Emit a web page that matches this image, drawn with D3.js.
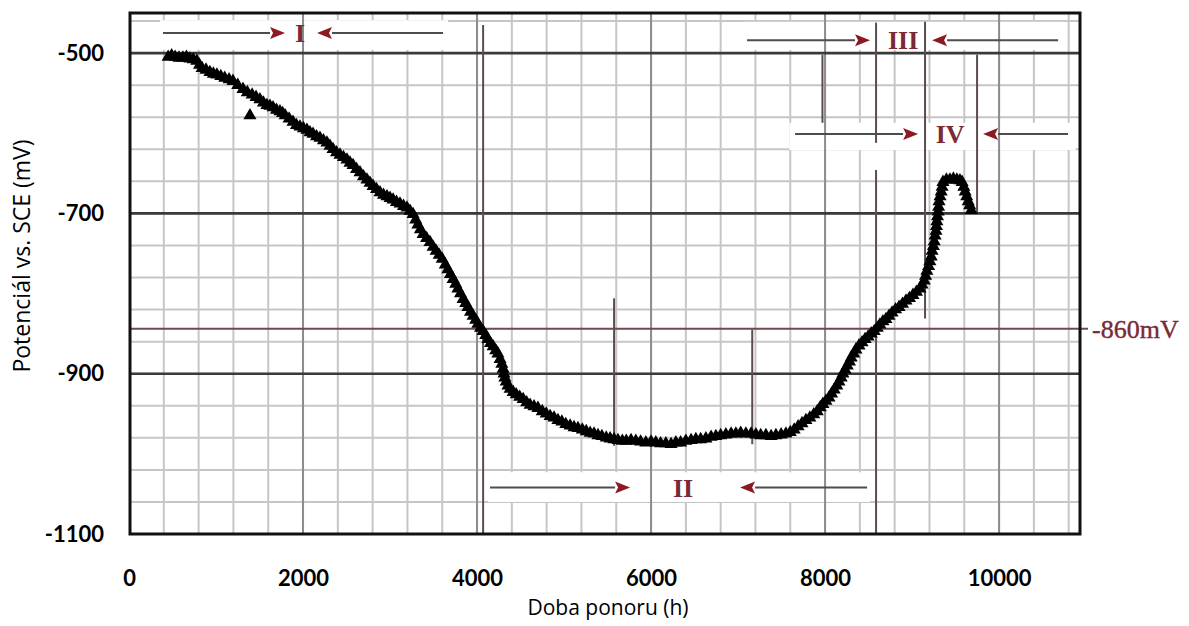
<!DOCTYPE html>
<html>
<head>
<meta charset="utf-8">
<script src="https://cdn.jsdelivr.net/npm/d3@7"></script>
<style>
  html, body { margin: 0; padding: 0; background: #ffffff; }
  svg { display: block; }
</style>
</head>
<body>
<svg id="chart" width="1189" height="626"></svg>
<script>
// ---------------- DATA ----------------
const timeH = [
  450, 490, 530, 575, 620, 660, 700, 740, 780, 810,
  840, 885, 930, 970, 1010, 1055, 1100, 1150, 1195, 1250,
  1310, 1360, 1390, 1415, 1460, 1505, 1545, 1585, 1620, 1655,
  1695, 1735, 1765, 1795, 1840, 1885, 1925, 1965, 2005, 2045,
  2080, 2115, 2155, 2195, 2235, 2275, 2310, 2345, 2385, 2425,
  2465, 2505, 2540, 2575, 2615, 2655, 2695, 2735, 2770, 2805,
  2845, 2885, 2925, 2965, 3000, 3035, 3075, 3115, 3155, 3195,
  3230, 3265, 3295, 3320, 3350, 3380, 3420, 3460, 3495, 3530,
  3565, 3600, 3635, 3665, 3695, 3725, 3755, 3780, 3810, 3840,
  3870, 3895, 3925, 3955, 3985, 4010, 4040, 4070, 4100, 4125,
  4155, 4185, 4215, 4240, 4265, 4285, 4300, 4310, 4320, 4335,
  4355, 4380, 4415, 4450, 4490, 4530, 4570, 4610, 4655, 4700,
  4750, 4795, 4840, 4885, 4930, 4975, 5020, 5070, 5115, 5160,
  5210, 5255, 5300, 5345, 5390, 5435, 5485, 5530, 5575, 5620,
  5670, 5715, 5770, 5825, 5880, 5940, 6000, 6055, 6110, 6170,
  6230, 6285, 6340, 6400, 6460, 6515, 6570, 6630, 6690, 6745,
  6800, 6860, 6920, 6975, 7030, 7090, 7150, 7205, 7260, 7320,
  7380, 7435, 7495, 7550, 7600, 7645, 7690, 7735, 7780, 7825,
  7870, 7910, 7945, 7975, 8010, 8045, 8075, 8105, 8135, 8160,
  8185, 8205, 8230, 8255, 8280, 8300, 8330, 8355, 8390, 8425,
  8460, 8495, 8530, 8565, 8600, 8630, 8665, 8700, 8735, 8770,
  8810, 8850, 8890, 8930, 8970, 9010, 9050, 9090, 9115, 9140,
  9155, 9170, 9190, 9205, 9220, 9230, 9245, 9255, 9265, 9275,
  9280, 9285, 9292, 9300, 9305, 9310, 9322, 9335, 9345, 9355,
  9395, 9435, 9475, 9515, 9550, 9575, 9595, 9610, 9628, 9645,
  9662, 9680];
const potentialMV = [
  -505, -503, -505, -506, -506, -505, -507, -508, -510, -515,
  -519, -521, -524, -526, -527, -529, -531, -533, -535, -540,
  -545, -549, -578, -552, -555, -558, -562, -565, -566, -568,
  -571, -573, -575, -578, -582, -586, -590, -592, -594, -596,
  -599, -601, -604, -606, -609, -612, -616, -620, -624, -627,
  -630, -633, -637, -640, -645, -649, -654, -658, -662, -666,
  -670, -674, -677, -679, -681, -683, -686, -688, -691, -693,
  -697, -701, -708, -714, -720, -726, -731, -736, -742, -747,
  -752, -757, -764, -770, -776, -782, -788, -794, -800, -807,
  -812, -817, -823, -828, -833, -838, -843, -847, -852, -857,
  -862, -866, -871, -875, -882, -888, -894, -900, -905, -910,
  -915, -919, -923, -926, -929, -932, -936, -939, -941, -943,
  -947, -950, -953, -955, -958, -960, -963, -965, -967, -968,
  -970, -972, -974, -975, -977, -978, -980, -981, -982, -983,
  -984, -984, -983, -984, -985, -986, -985, -986, -987, -987,
  -988, -986, -986, -984, -983, -982, -982, -981, -979, -978,
  -977, -976, -975, -975, -974, -975, -975, -976, -977, -977,
  -978, -977, -976, -975, -973, -970, -966, -962, -958, -955,
  -951, -947, -942, -938, -934, -930, -925, -920, -915, -910,
  -905, -900, -895, -890, -885, -880, -875, -870, -865, -861,
  -857, -854, -850, -847, -843, -839, -835, -832, -828, -824,
  -820, -817, -813, -809, -806, -802, -798, -794, -789, -784,
  -778, -772, -766, -760, -754, -747, -741, -735, -728, -722,
  -716, -710, -704, -698, -692, -685, -679, -673, -667, -661,
  -658, -658, -657, -658, -659, -661, -667, -673, -679, -685,
  -690, -696];

const xTicks = [0, 2000, 4000, 6000, 8000, 10000];
const yTicks = [-500, -700, -900, -1100];
const xLabel = "Doba ponoru (h)";
const yLabel = "Potenciál vs. SCE (mV)";

// reference potential line (drawn where the source image places it) and its label
const refLineMV = -844;
const refLabel = "-860mV";

// region boundary lines: [time h, top mV, bottom mV]
const regionLines = [
  [4070, -465, -1100],
  [5575, -806, -990],
  [7163, -845, -988],
  [7970, -502, -587],
  [8586, -462, -612],
  [8586, -646, -1100],
  [9149, -461, -831],
  [9747, -502, -699]
];
// region labels and arrows
const regionNames = ["I", "II", "III", "IV"];
const regionLabelH = [1965, 6368, 8897, 9437];
const regionLabelMV = [-475, -1042, -484, -601];
const arrowLeftFrom = [391, 4149, 7103, 7655];
const arrowLeftTo = [1793, 5759, 8517, 9069];
const arrowRightFrom = [3609, 8483, 10678, 10793];
const arrowRightTo = [2161, 7023, 9230, 9816];
// blank patches of the source figure: [h0, h1, mV top, mV bottom]
const blankPatches = [
  [356, 3667, -459, -496],
  [4126, 8517, -1023, -1060],
  [7060, 10750, -461, -496],
  [7590, 10880, -587, -621]
];

// ---------------- CHART ----------------
const svg = d3.select("#chart");
const x = d3.scaleLinear().domain([0, 10930]).range([129, 1080]);
const y = d3.scaleLinear().domain([-1100, -450]).range([534, 13]);
const X0 = 130, X1 = 1080, Y0 = 13, Y1 = 534;

svg.append("rect").attr("width", 1189).attr("height", 626).attr("fill", "#fff");

const g = svg.append("g");

// minor grid
const minorX = d3.range(400, 10930, 400);
const minorY = d3.range(-1060, -450, 40);
g.selectAll(".mx").data(minorX).join("line")
  .attr("x1", d => x(d)).attr("x2", d => x(d)).attr("y1", Y0).attr("y2", Y1)
  .attr("stroke", "#c6c6c6").attr("stroke-width", 2);
g.selectAll(".my").data(minorY).join("line")
  .attr("x1", X0).attr("x2", X1).attr("y1", d => y(d)).attr("y2", d => y(d))
  .attr("stroke", "#c6c6c6").attr("stroke-width", 2);

// blank patches
g.selectAll(".patch").data(blankPatches).join("rect")
  .attr("x", d => x(d[0])).attr("width", d => x(d[1]) - x(d[0]))
  .attr("y", d => y(d[2])).attr("height", d => y(d[3]) - y(d[2]))
  .attr("fill", "#fff");

// major grid
g.selectAll(".Mx").data(xTicks.filter(d => d > 0)).join("line")
  .attr("x1", d => x(d)).attr("x2", d => x(d)).attr("y1", Y0).attr("y2", Y1)
  .attr("stroke", "#8c8c8c").attr("stroke-width", 2);
g.selectAll(".My").data(yTicks.filter(d => d > -1100)).join("line")
  .attr("x1", X0).attr("x2", X1).attr("y1", d => y(d)).attr("y2", d => y(d))
  .attr("stroke", "#3a3a3a").attr("stroke-width", 2.6);

// region boundary lines
g.selectAll(".rl").data(regionLines).join("line")
  .attr("x1", d => x(d[0])).attr("x2", d => x(d[0]))
  .attr("y1", d => y(d[1])).attr("y2", d => y(d[2]))
  .attr("stroke", "#5a4d4d").attr("stroke-width", 2);

// reference line
g.append("line")
  .attr("x1", X0).attr("x2", 1088).attr("y1", y(refLineMV)).attr("y2", y(refLineMV))
  .attr("stroke", "#6e4a4c").attr("stroke-width", 2);
g.append("text")
  .attr("x", 1092).attr("y", y(refLineMV)).attr("dy", "0.35em")
  .attr("font-family", "'Liberation Serif', 'DejaVu Serif', serif")
  .attr("font-size", 26).attr("fill", "#7a2a34")
  .attr("stroke", "#7a2a34").attr("stroke-width", 0.4)
  .text(refLabel);

// data markers
const tri = d3.symbol().type(d3.symbolTriangle).size(74);
g.selectAll(".pt").data(timeH.map((t, i) => [t, potentialMV[i]])).join("path")
  .attr("d", tri)
  .attr("transform", d => `translate(${x(d[0])},${y(d[1])})`)
  .attr("fill", "#000");

// arrows
function arrow(h0, h1, mv) {
  const xa = x(h0), xb = x(h1), yy = y(mv);
  const dir = xb > xa ? 1 : -1;
  const head = 15;
  g.append("line").attr("x1", xa).attr("x2", xb - dir * head).attr("y1", yy).attr("y2", yy)
    .attr("stroke", "#4d4d4d").attr("stroke-width", 2);
  g.append("path")
    .attr("d", `M${xb},${yy} L${xb - dir * head},${yy - 6} L${xb - dir * (head - 3)},${yy} L${xb - dir * head},${yy + 6} Z`)
    .attr("fill", "#8b1a22");
}
regionNames.forEach((name, i) => {
  arrow(arrowLeftFrom[i], arrowLeftTo[i], regionLabelMV[i]);
  arrow(arrowRightFrom[i], arrowRightTo[i], regionLabelMV[i]);
  g.append("text")
    .attr("x", x(regionLabelH[i])).attr("y", y(regionLabelMV[i])).attr("dy", "0.35em")
    .attr("text-anchor", "middle")
    .attr("font-family", "'Liberation Serif', 'DejaVu Serif', serif")
    .attr("font-weight", "bold").attr("font-size", 26).attr("fill", "#7a2a34")
    .text(name);
});

// frame
g.append("rect").attr("x", X0).attr("y", Y0).attr("width", X1 - X0).attr("height", Y1 - Y0)
  .attr("fill", "none").attr("stroke", "#111").attr("stroke-width", 3);

// axes
const xAxis = svg.append("g").attr("transform", `translate(0,${Y1})`)
  .call(d3.axisBottom(x).tickValues(xTicks).tickSize(0).tickPadding(36).tickFormat(d3.format("d")));
const yAxis = svg.append("g").attr("transform", `translate(${X0},0)`)
  .call(d3.axisLeft(y).tickValues(yTicks).tickSize(0).tickPadding(26).tickFormat(d3.format("d")));
[xAxis, yAxis].forEach(a => {
  a.select(".domain").remove();
  a.selectAll("text").attr("font-family", "Lato, 'Open Sans', sans-serif")
    .attr("font-weight", "bold").attr("font-size", 22).attr("fill", "#000");
});
yAxis.selectAll("text").text(d => String(d));
xAxis.selectAll("text").text(d => String(d));

// axis titles
svg.append("text").attr("x", 608).attr("y", 608).attr("dy", "0.35em")
  .attr("text-anchor", "middle").attr("font-family", "'Open Sans', Lato, sans-serif")
  .attr("font-size", 21).attr("fill", "#000").text(xLabel);
svg.append("text").attr("transform", "translate(22,256) rotate(-90)").attr("dy", "0.35em")
  .attr("text-anchor", "middle").attr("font-family", "'Open Sans', Lato, sans-serif")
  .attr("font-size", 23).attr("fill", "#000").text(yLabel);
</script>
</body>
</html>
